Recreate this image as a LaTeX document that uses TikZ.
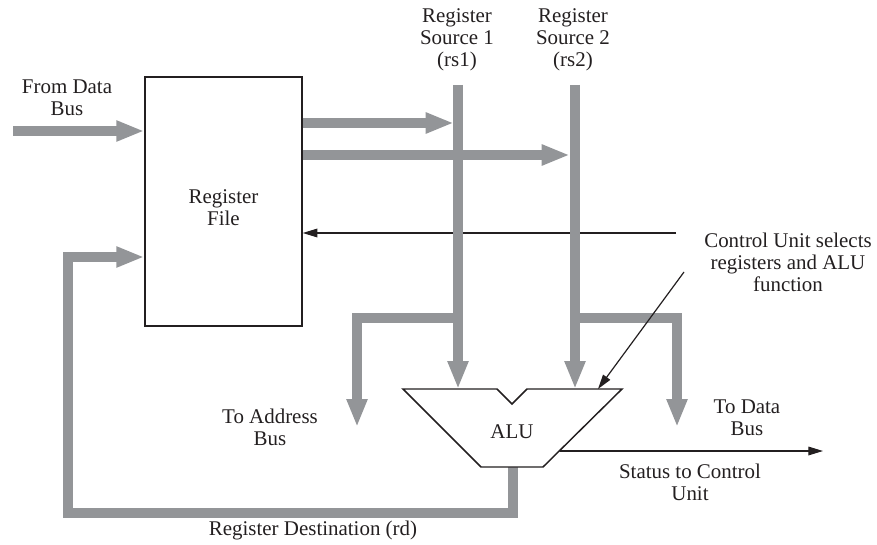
\documentclass[tikz,border=0pt]{standalone}
\usepackage{fontspec}
\setmainfont{Liberation Serif}
\usetikzlibrary{arrows.meta, positioning}
\definecolor{busGray}{RGB}{147,149,152}
\definecolor{inkBlack}{RGB}{35,31,32}

\begin{document}
\begin{tikzpicture}[
  x=0.75pt, y=-0.75pt,
  lbl/.style={
    align=center,
    inner sep=0pt,
    text=inkBlack,
    font=\fontsize{15.7}{16.4}\selectfont
  },
  regfile/.style={
    rectangle,
    draw=inkBlack,
    line width=1.1pt,
    minimum width=117.75pt,
    minimum height=186.75pt
  },
  bus/.style={draw=busGray, line width=7.5pt, -{Triangle[length=21pt, width=14.5pt]}},
  alubody/.style={draw=inkBlack, line width=1.1pt, fill=white, line join=miter},
  ctl/.style={draw=inkBlack, line width=0.9pt, -{Triangle[length=11pt, width=6.5pt]}},
]
\useasboundingbox (0,0) rectangle (877,545);

\node[regfile] (rfile) at (223.5,201.5) {};
\node[lbl] (rflbl) at (223.5,208) {Register\\File};

\coordinate (dbin) at (13,131);
\coordinate (rs1top) at (458,85);
\coordinate (rs2top) at (575,85);
\coordinate (rs1in) at (458,389);
\coordinate (rs2in) at (575,389);
\coordinate (alufn) at (598,389);
\coordinate (aluout) at (513,467);
\coordinate (alustat) at (560,451);
\coordinate (statout) at (823,451);
\coordinate (cusel) at (676,233);
\coordinate (cufn) at (684,272);

% control line sits under the buses
\draw[ctl] (cusel) -- (cusel -| rfile.east);

\draw[bus] (dbin) -- (dbin -| rfile.west);
\draw[bus] (rfile.east |- 0,123) -- ++(151,0);
\draw[bus] (rfile.east |- 0,155) -- ++(267,0);
\draw[bus] (rs1top) -- (rs1in);
\draw[bus] (rs2top) -- (rs2in);
\draw[bus] (rs1top |- 0,318) -| (357,427);
\draw[bus] (rs2top |- 0,318) -| (677,427);
\draw[bus] (aluout) |- (68,513) |- (rfile.west |- 0,257);

\draw[alubody] (403,389) -- (497,389) -- (512,404) -- (527,389) -- (622,389)
  -- (543,467) -- (481,467) -- cycle;
\node[lbl] (alu) at (512,432) {ALU};

\draw[ctl] (cufn) -- (alufn);
\draw[ctl] (alustat) -- (statout);

\node[lbl] (fromdb) at (67,98) {From Data\\Bus};
\node[lbl] (rs1lbl) at (457,40) {Register\\Source 1\\(rs1)};
\node[lbl] (rs2lbl) at (573,40) {Register\\Source 2\\(rs2)};
\node[lbl] (culbl) at (788,262) {Control Unit selects\\registers and ALU\\function};
\node[lbl] (addrlbl) at (270,427) {To Address\\Bus};
\node[lbl] (databus) at (747,418) {To Data\\Bus};
\node[lbl] (statlbl) at (690,482) {Status to Control\\Unit};
\node[lbl] (rdlbl) at (313,530) {Register Destination (rd)};

\end{tikzpicture}
\end{document}
